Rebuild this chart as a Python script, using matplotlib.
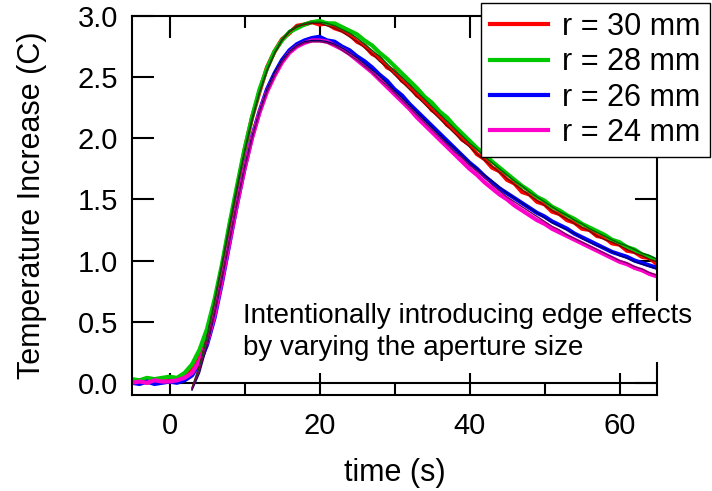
import numpy as np
import matplotlib
matplotlib.use("Agg")
import matplotlib.pyplot as plt

plt.rcParams['font.family'] = ['Liberation Sans', 'DejaVu Sans']

# measured traces, one sample per second from -5 s to 65 s
time = np.arange(-5, 66)
r30 = [0.01, 0.02, 0.00, 0.02, 0.01, 0.03, 0.03, 0.06, 0.12, 0.25,
       0.40, 0.65, 0.94, 1.28, 1.58, 1.90, 2.17, 2.38, 2.58, 2.71,
       2.81, 2.86, 2.92, 2.93, 2.95, 2.93, 2.94, 2.90, 2.88, 2.85,
       2.79, 2.76, 2.69, 2.66, 2.58, 2.55, 2.47, 2.43, 2.35, 2.31,
       2.23, 2.19, 2.11, 2.07, 1.99, 1.95, 1.87, 1.83, 1.76, 1.73,
       1.66, 1.63, 1.56, 1.54, 1.48, 1.46, 1.40, 1.38, 1.33, 1.31,
       1.26, 1.25, 1.20, 1.19, 1.14, 1.13, 1.08, 1.07, 1.03, 1.02,
       0.97]
r28 = [0.03, 0.02, 0.04, 0.03, 0.04, 0.05, 0.04, 0.08, 0.15, 0.27,
       0.44, 0.68, 0.97, 1.30, 1.61, 1.91, 2.17, 2.40, 2.57, 2.71,
       2.80, 2.87, 2.90, 2.93, 2.95, 2.96, 2.94, 2.94, 2.91, 2.88,
       2.85, 2.80, 2.76, 2.70, 2.65, 2.59, 2.53, 2.47, 2.41, 2.34,
       2.29, 2.22, 2.17, 2.10, 2.04, 1.98, 1.92, 1.87, 1.81, 1.76,
       1.71, 1.66, 1.61, 1.57, 1.52, 1.49, 1.44, 1.41, 1.37, 1.34,
       1.30, 1.27, 1.24, 1.21, 1.17, 1.15, 1.11, 1.09, 1.05, 1.03,
       1.00]
r26 = [0.00, -0.01, 0.01, -0.01, 0.00, 0.01, 0.00, 0.02, 0.06, 0.16,
       0.31, 0.53, 0.82, 1.14, 1.46, 1.75, 2.01, 2.22, 2.40, 2.53,
       2.64, 2.72, 2.77, 2.80, 2.82, 2.83, 2.80, 2.79, 2.75, 2.72,
       2.67, 2.63, 2.58, 2.52, 2.47, 2.40, 2.35, 2.28, 2.22, 2.16,
       2.10, 2.04, 1.98, 1.92, 1.86, 1.80, 1.75, 1.69, 1.64, 1.59,
       1.55, 1.51, 1.47, 1.43, 1.39, 1.36, 1.32, 1.29, 1.26, 1.22,
       1.19, 1.16, 1.13, 1.10, 1.07, 1.05, 1.03, 1.00, 0.98, 0.96,
       0.94]
r24 = [0.00, 0.01, 0.00, 0.02, 0.01, 0.01, 0.02, 0.04, 0.08, 0.18,
       0.33, 0.55, 0.84, 1.15, 1.46, 1.75, 2.00, 2.21, 2.38, 2.51,
       2.62, 2.70, 2.75, 2.78, 2.80, 2.80, 2.79, 2.76, 2.73, 2.69,
       2.64, 2.59, 2.54, 2.48, 2.42, 2.36, 2.30, 2.24, 2.17, 2.11,
       2.05, 1.99, 1.93, 1.87, 1.81, 1.75, 1.70, 1.64, 1.59, 1.54,
       1.50, 1.45, 1.41, 1.37, 1.33, 1.30, 1.26, 1.23, 1.20, 1.17,
       1.14, 1.11, 1.08, 1.05, 1.02, 0.99, 0.97, 0.94, 0.92, 0.89,
       0.87]

# model fits, from 3 s to 65 s
fit_time = np.arange(3, 66)
fit30 = [-0.04, 0.14, 0.38, 0.66, 0.96, 1.27, 1.58, 1.88, 2.14, 2.37,
         2.55, 2.69, 2.80, 2.87, 2.91, 2.93, 2.94, 2.94, 2.92, 2.90,
         2.87, 2.83, 2.79, 2.74, 2.69, 2.63, 2.58, 2.52, 2.46, 2.40,
         2.34, 2.28, 2.22, 2.16, 2.10, 2.04, 1.98, 1.93, 1.87, 1.82,
         1.77, 1.72, 1.67, 1.62, 1.58, 1.53, 1.49, 1.45, 1.41, 1.37,
         1.34, 1.30, 1.27, 1.24, 1.20, 1.17, 1.15, 1.12, 1.09, 1.06,
         1.04, 1.01, 0.99]
fit28 = [-0.05, 0.13, 0.38, 0.67, 0.98, 1.30, 1.61, 1.90, 2.16, 2.38,
         2.56, 2.70, 2.81, 2.88, 2.92, 2.94, 2.95, 2.95, 2.94, 2.92,
         2.89, 2.86, 2.82, 2.77, 2.72, 2.67, 2.61, 2.55, 2.50, 2.44,
         2.38, 2.32, 2.26, 2.20, 2.14, 2.08, 2.02, 1.96, 1.91, 1.85,
         1.80, 1.75, 1.70, 1.65, 1.61, 1.56, 1.52, 1.48, 1.44, 1.40,
         1.37, 1.33, 1.30, 1.26, 1.23, 1.20, 1.17, 1.14, 1.12, 1.09,
         1.06, 1.04, 1.01]
fit26 = [-0.06, 0.08, 0.30, 0.56, 0.85, 1.16, 1.47, 1.76, 2.01, 2.22,
         2.40, 2.54, 2.64, 2.71, 2.76, 2.79, 2.80, 2.80, 2.79, 2.77,
         2.74, 2.70, 2.66, 2.61, 2.56, 2.51, 2.45, 2.39, 2.33, 2.27,
         2.21, 2.15, 2.09, 2.03, 1.97, 1.92, 1.86, 1.80, 1.75, 1.70,
         1.65, 1.60, 1.55, 1.51, 1.47, 1.43, 1.39, 1.35, 1.31, 1.28,
         1.25, 1.22, 1.18, 1.15, 1.12, 1.10, 1.07, 1.04, 1.02, 0.99,
         0.97, 0.95, 0.93]
fit24 = [-0.05, 0.10, 0.32, 0.58, 0.87, 1.17, 1.47, 1.75, 2.00, 2.21,
         2.38, 2.51, 2.62, 2.70, 2.75, 2.78, 2.79, 2.79, 2.78, 2.76,
         2.72, 2.68, 2.64, 2.59, 2.54, 2.48, 2.43, 2.37, 2.31, 2.25,
         2.19, 2.13, 2.07, 2.01, 1.95, 1.89, 1.84, 1.78, 1.73, 1.68,
         1.62, 1.57, 1.52, 1.48, 1.44, 1.40, 1.36, 1.32, 1.28, 1.25,
         1.21, 1.18, 1.15, 1.12, 1.09, 1.06, 1.03, 1.00, 0.98, 0.95,
         0.93, 0.90, 0.88]

labels = ['r = 30 mm', 'r = 28 mm', 'r = 26 mm', 'r = 24 mm']
colors = ['#ff0000', '#00c800', '#0000ff', '#ff00cc']
fit_colors = ['#7a0000', '#005a00', '#00006e', '#7a0060']

fig = plt.figure(figsize=(7.12, 4.91), dpi=100)
ax = fig.add_axes([132/712, 96/491, 525/712, 379/491])

ax.axhline(0, color='black', lw=1.5, zorder=1)

handles = []
for y, c, lab in zip([r30, r28, r26, r24], colors, labels):
    h, = ax.plot(time, y, color=c, lw=3.0, label=lab, zorder=2)
    handles.append(h)
for y, c in zip([fit30, fit28, fit26, fit24], fit_colors):
    ax.plot(fit_time, y, color=c, lw=1.0, zorder=2.2)

ax.set_xlim(-5, 65)
ax.set_ylim(-0.1, 3.0)
ax.set_xticks([0, 20, 40, 60])
ax.set_xticks([10, 30, 50], minor=True)
ax.set_yticks([0, 0.5, 1.0, 1.5, 2.0, 2.5, 3.0])
ax.set_yticklabels(['0.0', '0.5', '1.0', '1.5', '2.0', '2.5', '3.0'])

for s in ax.spines.values():
    s.set_linewidth(1.5)
ax.tick_params(which='major', direction='in', length=16, width=1.5,
               top=True, right=True, labelsize=21)
ax.tick_params(which='minor', direction='in', length=8.5, width=1.5,
               top=True, right=True)
ax.tick_params(axis='x', pad=12)
ax.tick_params(axis='y', pad=10)

ax.set_xlabel('time (s)', fontsize=22, labelpad=13)
ax.set_ylabel('Temperature Increase (C)', fontsize=22, labelpad=22)

ax.text(0.211, 0.244, 'Intentionally introducing edge effects\nby varying the aperture size',
        transform=ax.transAxes, fontsize=20, ha='left', va='top', linespacing=1.3,
        bbox=dict(facecolor='white', edgecolor='none', pad=1.5), zorder=4)

leg = ax.legend(handles=handles, loc='upper right', bbox_to_anchor=(710/712, 488/491),
                bbox_transform=fig.transFigure, fontsize=22, fancybox=False,
                edgecolor='black', framealpha=1, handlelength=1.9, handletextpad=0.46,
                labelspacing=0.17, borderpad=0.3, borderaxespad=0)
leg.get_frame().set_linewidth(1.0)
leg.set_zorder(5)

fig.savefig('out.png', dpi=100)
